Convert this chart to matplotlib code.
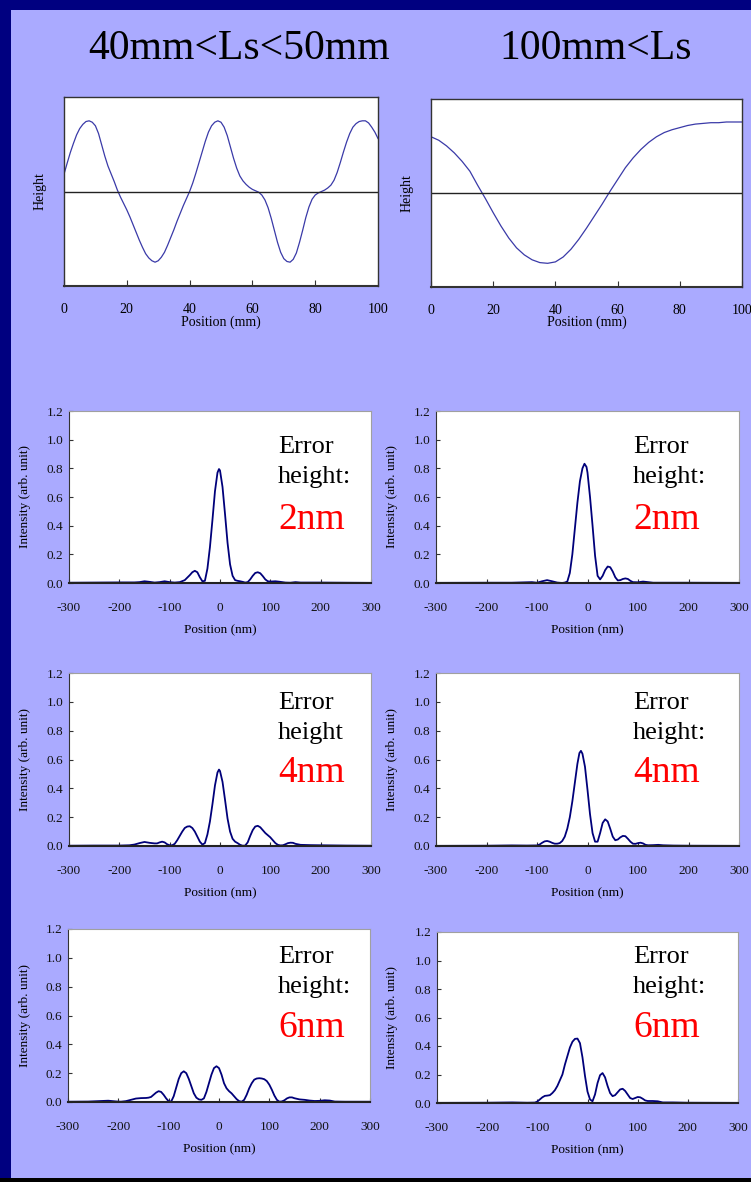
import numpy as np
import matplotlib
matplotlib.use('Agg')
import matplotlib.pyplot as plt
from matplotlib.patches import Rectangle
from matplotlib.ticker import FormatStrFormatter

plt.rcParams['font.family'] = ['Liberation Serif', 'DejaVu Serif']
plt.rcParams['axes.unicode_minus'] = False

W, H = 751, 1182

# ---- surface profiles (Position in mm, arb. height)
pos_a = np.arange(0, 101, 1)
height_a = [0.245, 0.40, 0.55, 0.68, 0.80, 0.89, 0.95, 0.99, 1.00, 0.98,
            0.93, 0.82, 0.66, 0.50, 0.36, 0.25, 0.14, 0.02, -0.08, -0.17,
            -0.26, -0.36, -0.47, -0.58, -0.69, -0.79, -0.88, -0.94, -0.98, -1.00,
            -0.98, -0.93, -0.86, -0.76, -0.65, -0.54, -0.42, -0.31, -0.20, -0.10,
            0.00, 0.12, 0.26, 0.41, 0.56, 0.71, 0.84, 0.93, 0.98, 1.00,
            0.98, 0.91, 0.79, 0.63, 0.47, 0.33, 0.22, 0.15, 0.10, 0.06,
            0.03, 0.01, -0.01, -0.05, -0.12, -0.23, -0.38, -0.55, -0.72, -0.86,
            -0.95, -0.99, -1.00, -0.96, -0.87, -0.72, -0.55, -0.37, -0.22, -0.11,
            -0.05, -0.02, 0.00, 0.02, 0.05, 0.09, 0.16, 0.27, 0.41, 0.56,
            0.70, 0.82, 0.91, 0.96, 0.99, 1.00, 1.00, 0.97, 0.91, 0.84, 0.75]

pos_b = np.arange(0, 100.1, 2.5)
height_b = [0.80, 0.75, 0.67, 0.57, 0.45, 0.31, 0.11, -0.08, -0.28, -0.47,
            -0.64, -0.78, -0.88, -0.95, -0.99, -1.00, -0.98, -0.91, -0.80, -0.66,
            -0.50, -0.33, -0.16, 0.02, 0.19, 0.36, 0.50, 0.62, 0.72, 0.80,
            0.86, 0.90, 0.93, 0.96, 0.98, 0.99, 1.00, 1.00, 1.01, 1.01, 1.01]

# ---- intensity profiles (Position in nm)
x_2nm_a = [-300, -250, -200, -170, -160, -150, -140, -130, -120, -110, -100, -90, -80, -70, -60,
           -55, -50, -45, -40, -35, -30, -25, -20, -15, -10, -5, -2, 0, 5, 10, 15, 20, 25, 30, 35, 40,
           45, 50, 55, 60, 65, 70, 75, 80, 85, 90, 95, 100, 110, 120, 130, 140, 150, 160, 200, 250, 300]
i_2nm_a = [0.002, 0.003, 0.004, 0.004, 0.006, 0.012, 0.008, 0.003, 0.006, 0.012, 0.006, 0.003, 0.006, 0.02, 0.055,
           0.075, 0.085, 0.075, 0.04, 0.012, 0.015, 0.10, 0.25, 0.44, 0.64, 0.77, 0.795, 0.785, 0.67, 0.48, 0.28, 0.13, 0.05, 0.02, 0.015, 0.012,
           0.008, 0.003, 0.006, 0.025, 0.05, 0.07, 0.075, 0.068, 0.048, 0.025, 0.012, 0.01, 0.012, 0.008, 0.003, 0.002, 0.006, 0.003, 0.003, 0.002, 0.001]

x_2nm_b = [-300, -200, -150, -120, -110, -100, -90, -80, -70, -60, -50, -45, -40, -35, -30,
           -25, -20, -15, -10, -6, -2, 0, 5, 10, 15, 20, 25, 30, 35, 40, 45,
           50, 55, 60, 65, 70, 75, 80, 85, 90, 100, 110, 120, 130, 150, 200, 300]
i_2nm_b = [0.001, 0.002, 0.002, 0.005, 0.006, 0.002, 0.012, 0.02, 0.012, 0.003, 0.0, 0.003, 0.01, 0.07, 0.20,
           0.38, 0.56, 0.71, 0.80, 0.832, 0.81, 0.77, 0.60, 0.40, 0.19, 0.05, 0.025, 0.05, 0.09, 0.115, 0.11,
           0.08, 0.04, 0.018, 0.02, 0.028, 0.032, 0.028, 0.015, 0.006, 0.005, 0.01, 0.006, 0.002, 0.002, 0.002, 0.001]

x_4nm_a = [-300, -250, -200, -180, -170, -160, -150, -140, -130, -125, -120, -115, -110, -105, -100,
           -95, -90, -85, -80, -75, -70, -65, -60, -55, -50, -45, -40, -35, -30, -25,
           -20, -15, -10, -5, -2, 0, 5, 10, 15, 20, 25, 30, 35, 40, 45, 50,
           55, 60, 65, 70, 75, 80, 85, 90, 95, 100, 105, 110, 115, 120, 125,
           130, 135, 140, 145, 150, 160, 180, 200, 250, 300]
i_4nm_a = [0.002, 0.003, 0.003, 0.005, 0.01, 0.02, 0.028, 0.022, 0.018, 0.018, 0.025, 0.03, 0.025, 0.012, 0.005,
           0.005, 0.015, 0.04, 0.07, 0.10, 0.125, 0.135, 0.137, 0.125, 0.10, 0.065, 0.03, 0.01, 0.02, 0.08,
           0.17, 0.29, 0.42, 0.51, 0.53, 0.52, 0.445, 0.32, 0.19, 0.10, 0.05, 0.03, 0.02, 0.008, 0.002, 0.003,
           0.025, 0.07, 0.11, 0.135, 0.14, 0.13, 0.11, 0.09, 0.075, 0.06, 0.04, 0.02, 0.008, 0.004, 0.005,
           0.012, 0.02, 0.023, 0.022, 0.015, 0.008, 0.006, 0.005, 0.003, 0.002]

x_4nm_b = [-300, -200, -150, -120, -100, -95, -90, -85, -80, -75, -70, -65, -60, -55, -50,
           -45, -40, -35, -30, -25, -20, -16, -13, -10, -5, 0, 5, 10, 15, 20, 25,
           30, 35, 40, 45, 50, 55, 60, 65, 70, 75, 80, 85, 90, 95, 100,
           105, 110, 115, 120, 130, 140, 150, 170, 200, 300]
i_4nm_b = [0.001, 0.002, 0.004, 0.003, 0.004, 0.01, 0.022, 0.032, 0.035, 0.03, 0.022, 0.016, 0.016, 0.02, 0.035,
           0.065, 0.12, 0.20, 0.31, 0.44, 0.57, 0.645, 0.66, 0.64, 0.55, 0.39, 0.22, 0.09, 0.03, 0.03, 0.09,
           0.16, 0.185, 0.17, 0.12, 0.065, 0.04, 0.045, 0.06, 0.07, 0.068, 0.05, 0.03, 0.016, 0.015, 0.02,
           0.023, 0.018, 0.008, 0.005, 0.006, 0.008, 0.005, 0.003, 0.002, 0.001]

x_6nm_a = [-300, -260, -240, -220, -205, -195, -185, -175, -165, -155, -145, -140, -135, -130, -125,
           -120, -115, -110, -105, -100, -95, -90, -85, -80, -75, -70, -65, -60, -55, -50,
           -45, -40, -35, -30, -25, -20, -15, -10, -5, 0, 5, 10, 15, 20, 25,
           30, 35, 40, 45, 50, 55, 60, 65, 70, 75, 80, 85, 90, 95, 100,
           105, 110, 115, 120, 125, 130, 135, 140, 145, 150, 160, 170, 180, 190, 200,
           210, 220, 230, 250, 300]
i_6nm_a = [0.002, 0.003, 0.006, 0.009, 0.004, 0.002, 0.006, 0.015, 0.024, 0.027, 0.028, 0.03, 0.035, 0.05, 0.065,
           0.075, 0.07, 0.05, 0.025, 0.005, 0.003, 0.04, 0.1, 0.16, 0.2, 0.213, 0.2, 0.16, 0.11, 0.06,
           0.03, 0.018, 0.015, 0.025, 0.07, 0.13, 0.19, 0.235, 0.248, 0.235, 0.19, 0.13, 0.095, 0.075, 0.06,
           0.04, 0.02, 0.006, 0.002, 0.015, 0.05, 0.095, 0.13, 0.155, 0.163, 0.165, 0.163, 0.158, 0.145, 0.12,
           0.085, 0.045, 0.015, 0.002, 0.004, 0.012, 0.025, 0.032, 0.032, 0.026, 0.018, 0.015, 0.01, 0.007, 0.008,
           0.012, 0.01, 0.003, 0.002, 0.002]

x_6nm_b = [-300, -200, -150, -120, -105, -100, -95, -90, -85, -80, -75, -70, -65, -60, -55,
           -50, -45, -40, -35, -30, -25, -20, -15, -10, -5, 0, 5, 10, 15, 20,
           25, 30, 35, 40, 45, 50, 55, 60, 65, 70, 75, 80, 85, 90, 95,
           100, 105, 110, 115, 120, 130, 140, 150, 170, 200, 300]
i_6nm_b = [0.001, 0.002, 0.004, 0.002, 0.003, 0.01, 0.025, 0.04, 0.05, 0.052, 0.055, 0.07, 0.09, 0.12, 0.16,
           0.2, 0.27, 0.33, 0.39, 0.43, 0.45, 0.452, 0.42, 0.32, 0.19, 0.08, 0.025, 0.012, 0.06, 0.14,
           0.195, 0.21, 0.18, 0.12, 0.07, 0.048, 0.055, 0.075, 0.095, 0.1, 0.085, 0.06, 0.035, 0.028, 0.035,
           0.042, 0.04, 0.03, 0.018, 0.014, 0.014, 0.012, 0.004, 0.004, 0.002, 0.001]

err_labels = ['2nm', '4nm', '6nm']
height_words = [['height:', 'height:'], ['height', 'height:'], ['height:', 'height:']]

intensity_x = [[x_2nm_a, x_2nm_b], [x_4nm_a, x_4nm_b], [x_6nm_a, x_6nm_b]]
intensity_y = [[i_2nm_a, i_2nm_b], [i_4nm_a, i_4nm_b], [i_6nm_a, i_6nm_b]]


def rect(l, r, t, b):
    return [l / W, 1 - b / H, (r - l) / W, (b - t) / H]


def fpos(x, y):
    return x / W, 1 - y / H


fig = plt.figure(figsize=(W / 100, H / 100), dpi=100)
fig.patch.set_facecolor('#000080')
fig.patches.append(Rectangle((11 / W, 4 / H), 1 - 11 / W, 1168 / H,
                             transform=fig.transFigure, facecolor='#aaaaff', edgecolor='none', zorder=-10))
fig.patches.append(Rectangle((0, 0), 1, 4 / H, transform=fig.transFigure,
                             facecolor='black', edgecolor='none', zorder=-10))

# titles
fig.text(*fpos(239, 49), '40mm<Ls<50mm', fontsize=30, ha='center', va='center')
fig.text(*fpos(596, 49), '100mm<Ls', fontsize=30, ha='center', va='center')

# ---- top profile plots
top_boxes = [(64, 378, 97, 286), (431, 742, 99, 287)]
profiles = [(pos_a, height_a), (pos_b, height_b)]
ylab_x = [40, 407]
for (l, r, t, b), (px, py), yx in zip(top_boxes, profiles, ylab_x):
    ax = fig.add_axes(rect(l, r, t, b))
    ax.plot(px, py, color='#3a3aa8', lw=0.9)
    ax.axhline(0, color='#222222', lw=1.0)
    ax.set_xlim(0, 100)
    ax.set_ylim(-1.337, 1.337)
    ax.set_yticks([])
    ax.set_xticks(np.arange(0, 101, 20))
    ax.tick_params(axis='x', direction='in', length=4, pad=12, labelsize=10, color='#333333')
    for s in ax.spines.values():
        s.set_color('#333333')
        s.set_linewidth(1.0)
    ax.spines['bottom'].set_linewidth(1.5)
    ax.set_xlabel('Position (mm)', fontsize=10)
    ax.xaxis.set_label_coords(0.5, -(316 - b) / (b - t))
    ax.set_ylabel('Height', fontsize=10)
    ax.yaxis.set_label_coords(-(l - yx - 7) / (r - l), 0.5)

# ---- intensity plots
int_boxes = [
    [(69, 371, 411, 583), (436, 739, 411, 583)],
    [(69, 371, 673, 846), (436, 739, 673, 846)],
    [(68, 370, 929, 1102), (437, 738, 932, 1103)],
]
ylab_ix = [31, 398]
text_x = [278, 633]
text_y = [(447, 477, 520), (703, 733, 773), (957, 987, 1028)]

for row in range(3):
    for col in range(2):
        l, r, t, b = int_boxes[row][col]
        ax = fig.add_axes(rect(l, r, t, b))
        ax.plot(intensity_x[row][col], intensity_y[row][col], color='#00007a', lw=1.3)
        ax.set_xlim(-300, 300)
        ax.set_ylim(0, 1.2)
        ax.set_xticks(np.arange(-300, 301, 100))
        ax.set_yticks(np.arange(0, 1.21, 0.2))
        ax.yaxis.set_major_formatter(FormatStrFormatter('%.1f'))
        ax.tick_params(direction='in', length=3, labelsize=9.5, color='#333333', labelcolor='#111111')
        ax.tick_params(axis='x', pad=14)
        ax.tick_params(axis='y', pad=4)
        ax.spines['left'].set_color('#333333')
        ax.spines['bottom'].set_color('#222222')
        ax.spines['bottom'].set_linewidth(1.5)
        ax.spines['top'].set_color('#a0a0a0')
        ax.spines['right'].set_color('#a0a0a0')
        ax.set_xlabel('Position (nm)', fontsize=9.5)
        ax.xaxis.set_label_coords(0.5, -41 / (b - t))
        ax.set_ylabel('Intensity (arb. unit)', fontsize=9.5)
        ax.yaxis.set_label_coords(-(l - ylab_ix[col]) / (r - l), 0.5)

        ty = text_y[row]
        fig.text(*fpos(text_x[col], ty[0]), 'Error', fontsize=19, ha='left', va='center')
        fig.text(*fpos(text_x[col], ty[1]), height_words[row][col], fontsize=19, ha='left', va='center')
        fig.text(*fpos(text_x[col], ty[2]), err_labels[row], fontsize=27, color='#ff0000',
                 ha='left', va='center')

fig.savefig('out.png', dpi=100, facecolor=fig.get_facecolor())
